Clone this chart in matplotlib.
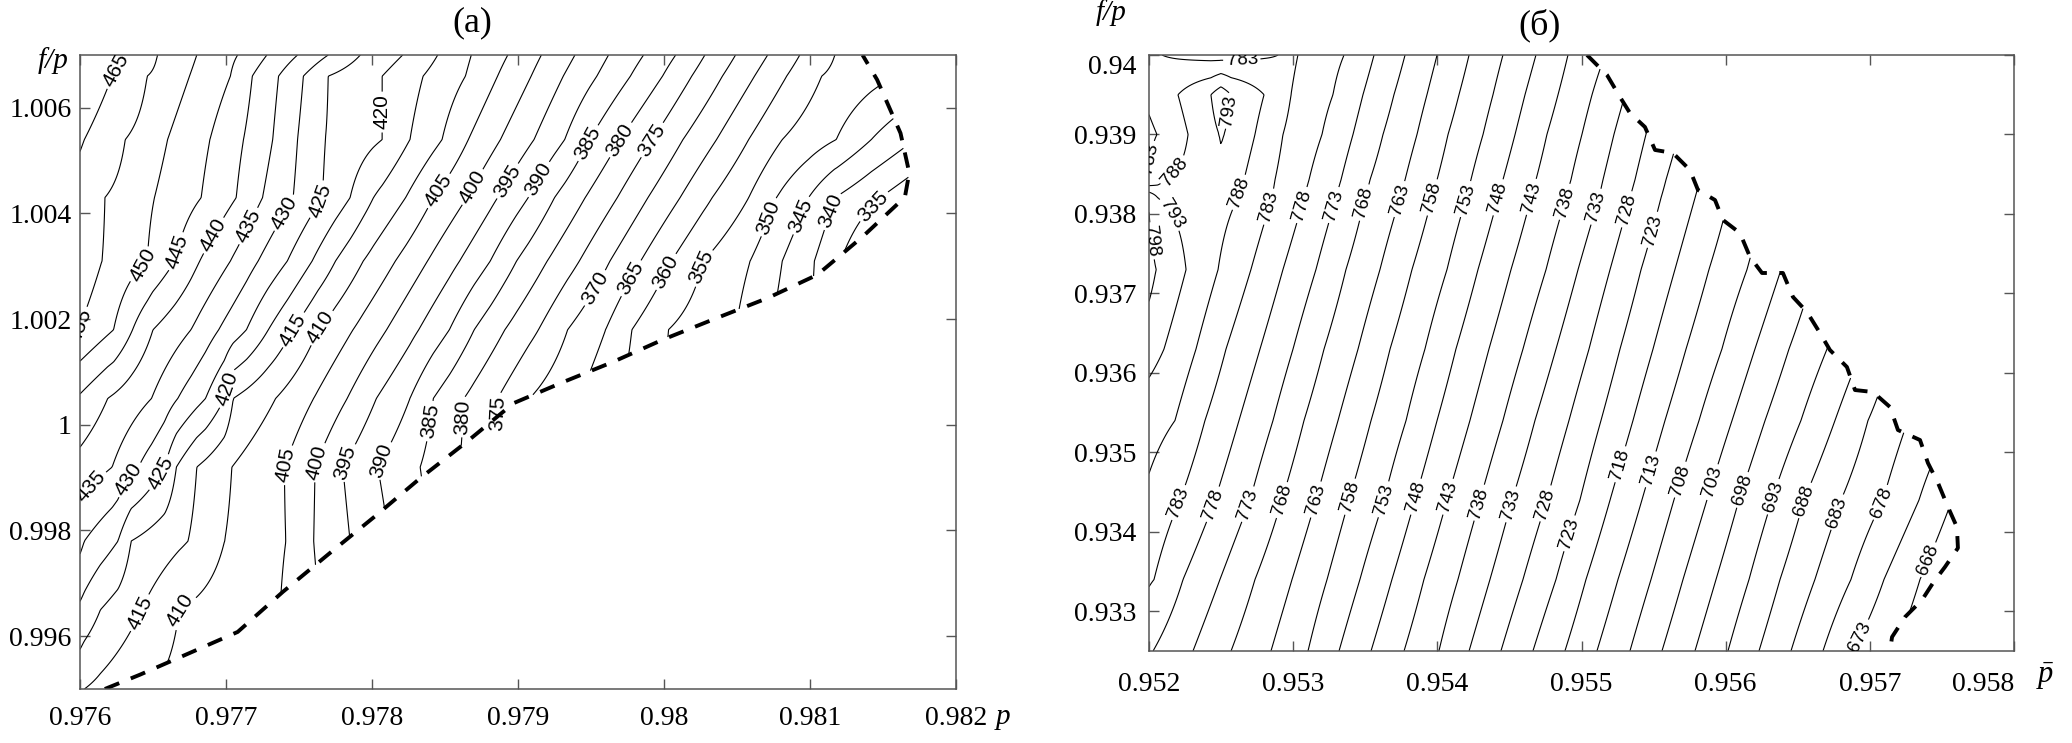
import numpy as np
import matplotlib
matplotlib.use("Agg")
import matplotlib.pyplot as plt
from matplotlib.path import Path

plt.rcParams['font.family'] = ['Liberation Sans', 'DejaVu Sans']
plt.rcParams['mathtext.fontset'] = 'custom'
plt.rcParams['mathtext.rm'] = 'Liberation Serif'
plt.rcParams['mathtext.it'] = 'Liberation Serif:italic'

# ---------------- panel (a) ----------------
a_rows_y = [1.0070, 1.0066, 1.0054, 1.0043, 1.0031, 1.0018, 1.0005, 0.9992, 0.9978, 0.9965, 0.9950]
a_levels = [465, 455, 450, 445, 440, 435, 430, 425, 420, 415, 410, 405, 400,
            395, 390, 385, 380, 375, 370, 365, 360, 355, 350, 345, 340, 335]
a_cross = {
    465: [0.97631, 0.97622, 0.97603, 0.97588, 0.97573, 0.97555, 0.97532, 0.97504, 0.97477, 0.97449, 0.97419],
    455: [0.97653, 0.97646, 0.97631, 0.97617, 0.97615, 0.97599, 0.97573, 0.97545, 0.97518, 0.97490, 0.97460],
    450: [0.97680, 0.97675, 0.97660, 0.97651, 0.97646, 0.97623, 0.97585, 0.97557, 0.97527, 0.97499, 0.97466],
    445: [0.97708, 0.97703, 0.97689, 0.97683, 0.97665, 0.97636, 0.97597, 0.97569, 0.97538, 0.97511, 0.97479],
    440: [0.97728, 0.97718, 0.97712, 0.97707, 0.97682, 0.97650, 0.97619, 0.97588, 0.97558, 0.97529, 0.97497],
    435: [0.97749, 0.97736, 0.97732, 0.97725, 0.97703, 0.97676, 0.97649, 0.97622, 0.97592, 0.97564, 0.97532],
    430: [0.97770, 0.97753, 0.97749, 0.97746, 0.97722, 0.97695, 0.97667, 0.97640, 0.97603, 0.97576, 0.97545],
    425: [0.97792, 0.97770, 0.97768, 0.97766, 0.97742, 0.97714, 0.97686, 0.97658, 0.97626, 0.97597, 0.97566],
    420: [0.97821, 0.97807, 0.97807, 0.97785, 0.97759, 0.97729, 0.97699, 0.97666, 0.97635, 0.97614, 0.97586],
    415: [0.97845, 0.97835, 0.97826, 0.97801, 0.97775, 0.97746, 0.97705, 0.97680, 0.97674, 0.97642, 0.97603],
    410: [0.97868, 0.97864, 0.97848, 0.97823, 0.97794, 0.97763, 0.97734, 0.97704, 0.97699, 0.97668, 0.97648],
    405: [0.97893, 0.97886, 0.97866, 0.97842, 0.97816, 0.97787, 0.97760, 0.97740, 0.97741, 0.97737, 0.97723],
    400: [0.97916, 0.97909, 0.97888, 0.97865, 0.97838, 0.97810, 0.97783, 0.97761, 0.97760, 0.97764, 0.97751],
    395: [0.97939, 0.97931, 0.97911, 0.97886, 0.97860, 0.97832, 0.97803, 0.97780, 0.97785, 0.97792, 0.97778],
    390: [0.97962, 0.97954, 0.97932, 0.97907, 0.97881, 0.97853, 0.97826, 0.97804, 0.97812, 0.97819, 0.97805],
    385: [0.97986, 0.97977, 0.97949, 0.97925, 0.97899, 0.97870, 0.97842, 0.97833, 0.97840, 0.97847, 0.97833],
    380: [0.98008, 0.97999, 0.97970, 0.97946, 0.97920, 0.97891, 0.97863, 0.97860, 0.97867, 0.97874, 0.97860],
    375: [0.98028, 0.98019, 0.97992, 0.97968, 0.97942, 0.97914, 0.97886, 0.97888, 0.97895, 0.97901, 0.97888],
    370: [0.98049, 0.98040, 0.98013, 0.97989, 0.97963, 0.97934, 0.97908, 0.97915, 0.97922, 0.97929, 0.97915],
    365: [0.98071, 0.98062, 0.98036, 0.98011, 0.97984, 0.97960, 0.97942, 0.97949, 0.97956, 0.97963, 0.97949],
    360: [0.98093, 0.98084, 0.98058, 0.98033, 0.98005, 0.97978, 0.97970, 0.97977, 0.97984, 0.97990, 0.97977],
    355: [0.98117, 0.98108, 0.98081, 0.98058, 0.98027, 0.98003, 0.97997, 0.98004, 0.98011, 0.98018, 0.98004],
    350: [0.98165, 0.98158, 0.98118, 0.98077, 0.98059, 0.98049, 0.98045, 0.98052, 0.98059, 0.98066, 0.98052],
    345: [0.98203, 0.98189, 0.98142, 0.98099, 0.98081, 0.98073, 0.98079, 0.98086, 0.98093, 0.98100, 0.98086],
    340: [0.98237, 0.98223, 0.98172, 0.98117, 0.98103, 0.98100, 0.98107, 0.98114, 0.98121, 0.98127, 0.98114],
    335: [0.98299, 0.98285, 0.98230, 0.98148, 0.98121, 0.98127, 0.98134, 0.98141, 0.98148, 0.98155, 0.98141],
}
# dashed boundary of the region, from the bottom edge up to the top edge
a_bound_x = [0.97617, 0.97641, 0.97675, 0.97708, 0.97739, 0.97771, 0.97803, 0.97833, 0.97865, 0.97897,
             0.97931, 0.97965, 0.97999, 0.98036, 0.98071, 0.98105, 0.98136, 0.98165, 0.98168, 0.98162,
             0.98146, 0.98136]
a_bound_y = [0.99500, 0.99527, 0.99568, 0.99608, 0.99684, 0.99757, 0.99829, 0.99899, 0.99968, 1.00041,
             1.00081, 1.00119, 1.00161, 1.00202, 1.00240, 1.00284, 1.00356, 1.00431, 1.00477, 1.00552,
             1.00653, 1.00700]
a_xticks = [0.976, 0.977, 0.978, 0.979, 0.980, 0.981, 0.982]
a_xlabels = ['0.976', '0.977', '0.978', '0.979', '0.98', '0.981', '0.982']
a_yticks = [0.996, 0.998, 1.000, 1.002, 1.004, 1.006]
a_ylabels = ['0.996', '0.998', '1', '1.002', '1.004', '1.006']

# where the inline labels sit
a_label_pts = [(0.97621, 1.00677), (0.97603, 1.00166), (0.97645, 1.00297), (0.97669, 1.00325),
               (0.97693, 1.00356), (0.97717, 1.00374), (0.97745, 1.00393), (0.97766, 1.00422),
               (0.97808, 1.00592), (0.97746, 1.00180), (0.97764, 1.00185), (0.97845, 1.00444),
               (0.97869, 1.00450), (0.97892, 1.00463), (0.97915, 1.00463), (0.97948, 1.00533),
               (0.97970, 1.00539), (0.97992, 1.00539), (0.97951, 1.00261), (0.97977, 1.00278),
               (0.98001, 1.00289), (0.98025, 1.00299), (0.98067, 1.00397), (0.98093, 1.00397),
               (0.98116, 1.00403), (0.98141, 1.00420),
               (0.97612, 0.99871), (0.97634, 0.99896), (0.97655, 0.99909), (0.97703, 1.00066),
               (0.97641, 0.99644), (0.97666, 0.99655), (0.97737, 0.99928), (0.97759, 0.99933),
               (0.97779, 0.99933), (0.97802, 0.99939), (0.97835, 1.00009), (0.97856, 1.00015),
               (0.97879, 1.00022)]

# ---------------- panel (b) ----------------
b_rows_y = [0.9400, 0.9395, 0.9390, 0.93843, 0.9382, 0.9373, 0.9363, 0.9354, 0.9344, 0.9334, 0.9325]
b_levels = [783, 778, 773, 768, 763, 758, 753, 748, 743, 738, 733, 728, 723,
            718, 713, 708, 703, 698, 693, 688, 683, 678, 673, 668]
b_cross = {
    783: [0.953033, 0.952985, 0.952929, 0.952874, 0.952853, 0.952707, 0.952534, 0.952388, 0.952215, 0.952035, 0.951868],
    778: [0.953353, 0.953276, 0.953200, 0.953110, 0.953075, 0.952929, 0.952770, 0.952624, 0.952458, 0.952236, 0.952028],
    773: [0.953561, 0.953484, 0.953415, 0.953332, 0.953297, 0.953158, 0.952999, 0.952860, 0.952701, 0.952492, 0.952305],
    768: [0.953776, 0.953699, 0.953623, 0.953533, 0.953498, 0.953366, 0.953214, 0.953075, 0.952922, 0.952735, 0.952569],
    763: [0.953998, 0.953928, 0.953859, 0.953776, 0.953741, 0.953602, 0.953450, 0.953311, 0.953158, 0.952992, 0.952846],
    758: [0.954220, 0.954150, 0.954074, 0.953998, 0.953963, 0.953824, 0.953672, 0.953540, 0.953387, 0.953235, 0.953103],
    753: [0.954455, 0.954386, 0.954317, 0.954233, 0.954199, 0.954067, 0.953914, 0.953783, 0.953630, 0.953463, 0.953318],
    748: [0.954684, 0.954608, 0.954539, 0.954455, 0.954421, 0.954282, 0.954129, 0.953998, 0.953845, 0.953685, 0.953540],
    743: [0.954906, 0.954837, 0.954760, 0.954684, 0.954650, 0.954511, 0.954358, 0.954226, 0.954067, 0.953907, 0.953769],
    738: [0.955163, 0.955073, 0.955003, 0.954927, 0.954892, 0.954754, 0.954594, 0.954455, 0.954296, 0.954143, 0.954011],
    733: [0.955371, 0.955302, 0.955225, 0.955149, 0.955121, 0.954976, 0.954823, 0.954677, 0.954518, 0.954365, 0.954220],
    728: [0.955586, 0.955517, 0.955447, 0.955371, 0.955336, 0.955198, 0.955052, 0.954913, 0.954760, 0.954594, 0.954441],
    723: [0.955822, 0.955752, 0.955676, 0.955586, 0.955551, 0.955413, 0.955267, 0.955135, 0.954989, 0.954823, 0.954663],
    718: [0.956058, 0.955981, 0.955905, 0.955822, 0.955787, 0.955648, 0.955496, 0.955357, 0.955198, 0.955031, 0.954885],
    713: [0.956307, 0.956231, 0.956148, 0.956058, 0.956023, 0.955884, 0.955725, 0.955579, 0.955419, 0.955253, 0.955107],
    708: [0.956619, 0.956529, 0.956446, 0.956349, 0.956307, 0.956148, 0.955974, 0.955815, 0.955641, 0.955482, 0.955336],
    703: [0.956869, 0.956779, 0.956689, 0.956585, 0.956543, 0.956384, 0.956203, 0.956044, 0.955870, 0.955704, 0.955558],
    698: [0.957112, 0.957022, 0.956932, 0.956827, 0.956786, 0.956619, 0.956439, 0.956273, 0.956092, 0.955933, 0.955787],
    693: [0.957452, 0.957348, 0.957251, 0.957140, 0.957091, 0.956904, 0.956703, 0.956522, 0.956321, 0.956162, 0.956016],
    688: [0.957729, 0.957625, 0.957514, 0.957396, 0.957348, 0.957154, 0.956945, 0.956758, 0.956543, 0.956377, 0.956231],
    683: [0.957833, 0.957736, 0.957646, 0.957542, 0.957500, 0.957334, 0.957154, 0.956987, 0.956800, 0.956619, 0.956453],
    678: [0.958062, 0.957972, 0.957889, 0.957792, 0.957750, 0.957590, 0.957417, 0.957264, 0.957091, 0.956869, 0.956675],
    673: [0.958693, 0.958568, 0.958451, 0.958319, 0.958263, 0.958041, 0.957799, 0.957584, 0.957341, 0.957098, 0.956883],
    668: [0.958874, 0.958735, 0.958631, 0.958506, 0.958458, 0.958249, 0.958041, 0.957799, 0.957570, 0.957348, 0.957174],
}
# extra readings left of the main 783 line (the bump in the upper left corner), one list per row
b_left_x = [[0.952000, 0.952090, 0.952492, 0.952895, 0.952964],
            [0.952000, 0.952201, 0.952430, 0.952499, 0.952569, 0.952798],
            [0.952000, 0.952055, 0.952271, 0.952486, 0.952499, 0.952520, 0.952735],
            [0.952000, 0.952111, 0.952423, 0.952659],
            [0.952000, 0.952062, 0.952354, 0.952617],
            [0.952000, 0.952049, 0.952257, 0.952479],
            [0.952000, 0.952104, 0.952326],
            [0.952000, 0.952180],
            [0.952000],
            [0.951660],
            [0.951521]]
b_left_z = [[785, 783, 781, 783, 784],
            [784, 788, 793, 796, 793, 788],
            [782, 783, 788, 793, 794, 793, 788],
            [783.5, 788, 790, 788],
            [797.5, 793, 791, 788],
            [800, 798, 793, 788],
            [795, 793, 788],
            [790, 788],
            [787],
            [788],
            [788]]
b_bound_x = [0.955038, 0.955177, 0.955267, 0.955336, 0.955440, 0.955510, 0.955634, 0.955752, 0.955808,
             0.955926, 0.955981, 0.956099, 0.956169, 0.956252, 0.956397, 0.956467, 0.956564, 0.956654,
             0.956723, 0.956841, 0.956897, 0.957022, 0.957140, 0.957195, 0.957348, 0.957403, 0.957473,
             0.957542, 0.957604, 0.957611, 0.957521, 0.957438, 0.957362, 0.957244, 0.957154, 0.957140]
b_bound_y = [0.940000, 0.939748, 0.939471, 0.939270, 0.939094, 0.938805, 0.938767, 0.938553, 0.938301,
             0.938175, 0.937924, 0.937760, 0.937458, 0.937257, 0.937257, 0.936955, 0.936766, 0.936502,
             0.936288, 0.936074, 0.935784, 0.935759, 0.935570, 0.935281, 0.935155, 0.934866, 0.934614,
             0.934312, 0.934060, 0.933796, 0.933557, 0.933356, 0.933142, 0.932928, 0.932676, 0.932500]
b_xticks = [0.952, 0.953, 0.954, 0.955, 0.956, 0.957, 0.958]
b_xlabels = ['0.952', '0.953', '0.954', '0.955', '0.956', '0.957', '0.958']
b_yticks = [0.933, 0.934, 0.935, 0.936, 0.937, 0.938, 0.939, 0.940]
b_ylabels = ['0.933', '0.934', '0.935', '0.936', '0.937', '0.938', '0.939', '0.94']

b_label_pts = [(0.95264, 0.93826), (0.95283, 0.93809), (0.95306, 0.93811), (0.95328, 0.93811),
               (0.95349, 0.93814), (0.95374, 0.93818), (0.95396, 0.93821), (0.95420, 0.93818),
               (0.95442, 0.93821), (0.95465, 0.93821), (0.95489, 0.93814), (0.95510, 0.93809),
               (0.95532, 0.93805), (0.95548, 0.93780),
               (0.95221, 0.93436), (0.95245, 0.93434), (0.95269, 0.93434), (0.95292, 0.93440),
               (0.95316, 0.93440), (0.95339, 0.93444), (0.95363, 0.93440), (0.95385, 0.93444),
               (0.95407, 0.93444), (0.95429, 0.93436), (0.95451, 0.93434), (0.95473, 0.93436),
               (0.95495, 0.93396), (0.95527, 0.93484), (0.95548, 0.93478), (0.95568, 0.93465),
               (0.95590, 0.93463), (0.95611, 0.93453), (0.95633, 0.93444), (0.95654, 0.93440),
               (0.95677, 0.93424), (0.95708, 0.93436), (0.95691, 0.93270), (0.95736, 0.93368),
               (0.95265, 0.93987), (0.95251, 0.93931), (0.95207, 0.93868), (0.95223, 0.93845),
               (0.95224, 0.93809), (0.95208, 0.93767)]


def row_profile(xg, xs, zs):
    xs = np.asarray(xs, float)
    zs = np.asarray(zs, float)
    # carry the last slope on so the row never goes flat inside the plot
    xs = np.r_[2 * xs[0] - xs[1], xs, 2 * xs[-1] - xs[-2]]
    zs = np.r_[2 * zs[0] - zs[1], zs, 2 * zs[-1] - zs[-2]]
    return np.interp(xg, xs, zs)


def build_field(xg, yg, rows_y, rows):
    prof = np.array([row_profile(xg, xs, zs) for xs, zs in rows])
    ry = np.asarray(rows_y)
    order = np.argsort(ry)
    ry, prof = ry[order], prof[order]
    Z = np.empty((len(yg), len(xg)))
    for j in range(len(xg)):
        Z[:, j] = np.interp(yg, ry, prof[:, j])
    return Z


def mask_outside(xg, yg, Z, poly):
    X, Y = np.meshgrid(xg, yg)
    inside = Path(poly).contains_points(np.column_stack([X.ravel(), Y.ravel()]))
    return np.ma.masked_where(~inside.reshape(X.shape), Z)


def style_axes(ax, xlim, ylim, xticks, xlabels, yticks, ylabels, xpad, ypad):
    ax.set_xlim(*xlim)
    ax.set_ylim(*ylim)
    ax.set_xticks(xticks, xlabels)
    ax.set_yticks(yticks, ylabels)
    ax.tick_params(direction='in', top=True, right=True, length=7, width=1,
                   color='#555555', labelsize=20, labelfontfamily='Liberation Serif')
    ax.tick_params(axis='x', pad=xpad)
    ax.tick_params(axis='y', pad=ypad)
    for sp in ax.spines.values():
        sp.set_color('#555555')
        sp.set_linewidth(1.1)


fig = plt.figure(figsize=(20.72, 7.43), dpi=100)
ax_a = fig.add_axes([0.03861, 0.07268, 0.42278, 0.85330])
ax_b = fig.add_axes([0.55454, 0.12382, 0.41747, 0.80215])

# panel (a)
xa = np.linspace(0.976, 0.982, 700)
ya = np.linspace(0.995, 1.007, 700)
rows_a = [([a_cross[lv][i] for lv in a_levels], a_levels) for i in range(len(a_rows_y))]
Za = build_field(xa, ya, a_rows_y, rows_a)
pad = 0.001
poly_a = list(zip(a_bound_x, a_bound_y)) + [(a_bound_x[-1], 1.007 + pad), (0.976 - pad, 1.007 + pad),
                                           (0.976 - pad, 0.995 - pad), (a_bound_x[0], 0.995 - pad)]
Za = mask_outside(xa, ya, Za, poly_a)
cs_a = ax_a.contour(xa, ya, Za, levels=sorted(a_levels), colors='k', linewidths=0.8)
ax_a.clabel(cs_a, manual=a_label_pts, inline=True, inline_spacing=3, fontsize=15, fmt='%d')
ax_a.plot(a_bound_x, a_bound_y, color='k', lw=2.8, linestyle=(0, (4, 3.2)))
style_axes(ax_a, (0.976, 0.982), (0.995, 1.007), a_xticks, a_xlabels, a_yticks, a_ylabels, 12, 6)

# panel (b)
xb = np.linspace(0.952, 0.958, 700)
yb = np.linspace(0.9325, 0.9400, 700)
rows_b = []
for i in range(len(b_rows_y)):
    xs = list(b_left_x[i]) + [b_cross[lv][i] for lv in b_levels]
    zs = list(b_left_z[i]) + list(b_levels)
    rows_b.append((xs, zs))
Zb = build_field(xb, yb, b_rows_y, rows_b)
poly_b = [(b_bound_x[0], 0.940 + pad)] + list(zip(b_bound_x, b_bound_y)) + \
         [(b_bound_x[-1], 0.9325 - pad), (0.952 - pad, 0.9325 - pad), (0.952 - pad, 0.940 + pad)]
Zb = mask_outside(xb, yb, Zb, poly_b)
b_all_levels = list(range(668, 803, 5))
cs_b = ax_b.contour(xb, yb, Zb, levels=b_all_levels, colors='k', linewidths=0.8)
ax_b.clabel(cs_b, manual=b_label_pts, inline=True, inline_spacing=3, fontsize=13.5, fmt='%d')
ax_b.plot(b_bound_x, b_bound_y, color='k', lw=2.8, linestyle=(0, (4, 3.2)))
style_axes(ax_b, (0.952, 0.958), (0.9325, 0.940), b_xticks, b_xlabels, b_yticks, b_ylabels, 15, 9)
# last x label of (b) sits to the left of its tick, as in the original
ax_b.get_xticklabels()[-1].set_horizontalalignment('right')
# top y label of (b) sits a little below its tick
ax_b.get_yticklabels()[-1].set_verticalalignment('top')

# titles and axis names
serif = 'Liberation Serif'
fig.text(0.2278, 0.969, '(a)', ha='center', va='center', fontsize=26, family=serif)
fig.text(0.7428, 0.966, '(б)', ha='center', va='center', fontsize=26, family=serif)
fig.text(0.0256, 0.919, 'f/p', ha='center', va='center', fontsize=21, family=serif, style='italic')
fig.text(0.5362, 0.9825, 'f/p', ha='center', va='center', fontsize=21, family=serif, style='italic')
fig.text(0.4840, 0.0350, 'p', ha='center', va='center', fontsize=21, family=serif, style='italic')
fig.text(0.9870, 0.0900, r'$\bar{p}$', ha='center', va='center', fontsize=22)

fig.savefig('out.png', dpi=100)
